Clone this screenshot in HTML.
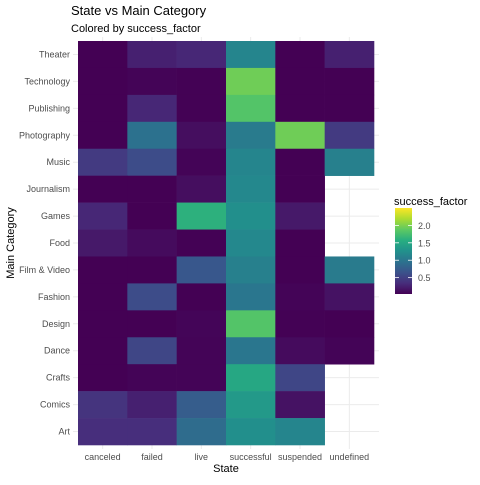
<!DOCTYPE html>
<html><head><meta charset="utf-8"><style>
body{margin:0;background:#fff;font-family:"Liberation Sans",sans-serif}
</style></head><body>
<svg id="c" width="480" height="480" xmlns="http://www.w3.org/2000/svg">
<text x="71" y="15" font-size="13" fill="#000">State vs Main Category</text>
<text x="71" y="32" font-size="11" fill="#000">Colored by success_factor</text>
<g id="grid"></g><g id="cells"></g><g id="ylab"></g><g id="xlab"></g>
<text x="226" y="472" font-size="11" text-anchor="middle">State</text>
<text transform="translate(14,243) rotate(-90)" font-size="11" text-anchor="middle">Main Category</text>
<text x="394" y="205" font-size="11">success_factor</text>
<defs><linearGradient id="vg" x1="0" y1="1" x2="0" y2="0">
<stop offset="0" stop-color="#440154"/><stop offset="0.125" stop-color="#472d7b"/><stop offset="0.25" stop-color="#3b528b"/><stop offset="0.375" stop-color="#2c728e"/><stop offset="0.5" stop-color="#21918c"/><stop offset="0.625" stop-color="#28ae80"/><stop offset="0.75" stop-color="#5ec962"/><stop offset="0.875" stop-color="#addc30"/><stop offset="1" stop-color="#fde725"/></linearGradient></defs>
<rect x="395" y="208" width="17" height="86" fill="url(#vg)"/>
<g id="leg"></g>
</svg>
<script>
const states=["canceled","failed","live","successful","suspended","undefined"];
const categories=["Theater","Technology","Publishing","Photography","Music","Journalism","Games","Food","Film & Video","Fashion","Design","Dance","Crafts","Comics","Art"];
const values=[
[0.03,0.25,0.3,1.15,0.03,0.25],
[0.03,0.05,0.04,1.95,0.03,0.03],
[0.03,0.3,0.04,1.82,0.03,0.03],
[0.03,0.95,0.12,1.05,1.95,0.45],
[0.45,0.6,0.05,1.15,0.03,1.1],
[0.03,0.03,0.12,1.18,0.03,null],
[0.3,0.03,1.6,1.25,0.2,null],
[0.2,0.1,0.04,1.18,0.03,null],
[0.03,0.03,0.7,1.1,0.03,1.05],
[0.03,0.6,0.03,1.0,0.05,0.15],
[0.03,0.03,0.06,1.82,0.04,0.03],
[0.03,0.55,0.05,1.0,0.1,0.05],
[0.03,0.05,0.05,1.5,0.55,null],
[0.4,0.25,0.75,1.35,0.15,null],
[0.35,0.35,0.9,1.25,1.15,null]];
const legendTicks=[0.5,1.0,1.5,2.0];
const vmin=0.03,vmax=2.5;
const X0=78,X1=374,Y0=41,Y1=445;
const cw=(X1-X0)/states.length,ch=(Y1-Y0)/categories.length;
const xs=i=>X0+i*cw, ys=j=>Y0+j*ch;
const stops=["#440154","#472d7b","#3b528b","#2c728e","#21918c","#28ae80","#5ec962","#addc30","#fde725"].map(h=>[1,3,5].map(k=>parseInt(h.substr(k,2),16)));
function vir(v){let t=Math.max(0,Math.min(1,(v-vmin)/(vmax-vmin)))*8;let i=Math.min(7,Math.floor(t)),f=t-i;
const c=stops[i].map((a,k)=>Math.round(a+(stops[i+1][k]-a)*f));return `rgb(${c})`;}
const NS="http://www.w3.org/2000/svg";
function mk(p,tag,at){const e=document.createElementNS(NS,tag);for(const k in at)e.setAttribute(k,at[k]);document.getElementById(p).appendChild(e);return e;}
states.forEach((s,i)=>{const l=mk("grid","line",{x1:xs(i)+cw/2,x2:xs(i)+cw/2,y1:Y0-4,y2:Y1+4,stroke:"#ebebeb","stroke-width":1});


const t=mk("xlab","text",{x:xs(i)+cw/2,y:460,"font-size":9,fill:"#4d4d4d","text-anchor":"middle"});t.textContent=s;

});
categories.forEach((c,j)=>{const l=mk("grid","line",{x1:X0-5,x2:X1+5,y1:ys(j)+ch/2,y2:ys(j)+ch/2,stroke:"#ebebeb","stroke-width":1});


const t=mk("ylab","text",{x:70,y:ys(j)+ch/2+3,"font-size":9,fill:"#4d4d4d","text-anchor":"end"});t.textContent=c;


values[j].forEach((v,i)=>{if(v===null)return;const r=mk("cells","rect",{x:xs(i),y:ys(j),width:cw+0.3,height:ch+0.3,fill:vir(v)});

});});
legendTicks.forEach(v=>{const y=294-(v-vmin)/(vmax-vmin)*86;
mk("leg","line",{x1:395,x2:399,y1:y,y2:y,stroke:"#fff","stroke-width":0.8});
mk("leg","line",{x1:408,x2:412,y1:y,y2:y,stroke:"#fff","stroke-width":0.8});
const t=mk("leg","text",{x:418,y:y+3.5,"font-size":9,fill:"#4d4d4d"});t.textContent=v.toFixed(1);

});
</script>
</body></html>
